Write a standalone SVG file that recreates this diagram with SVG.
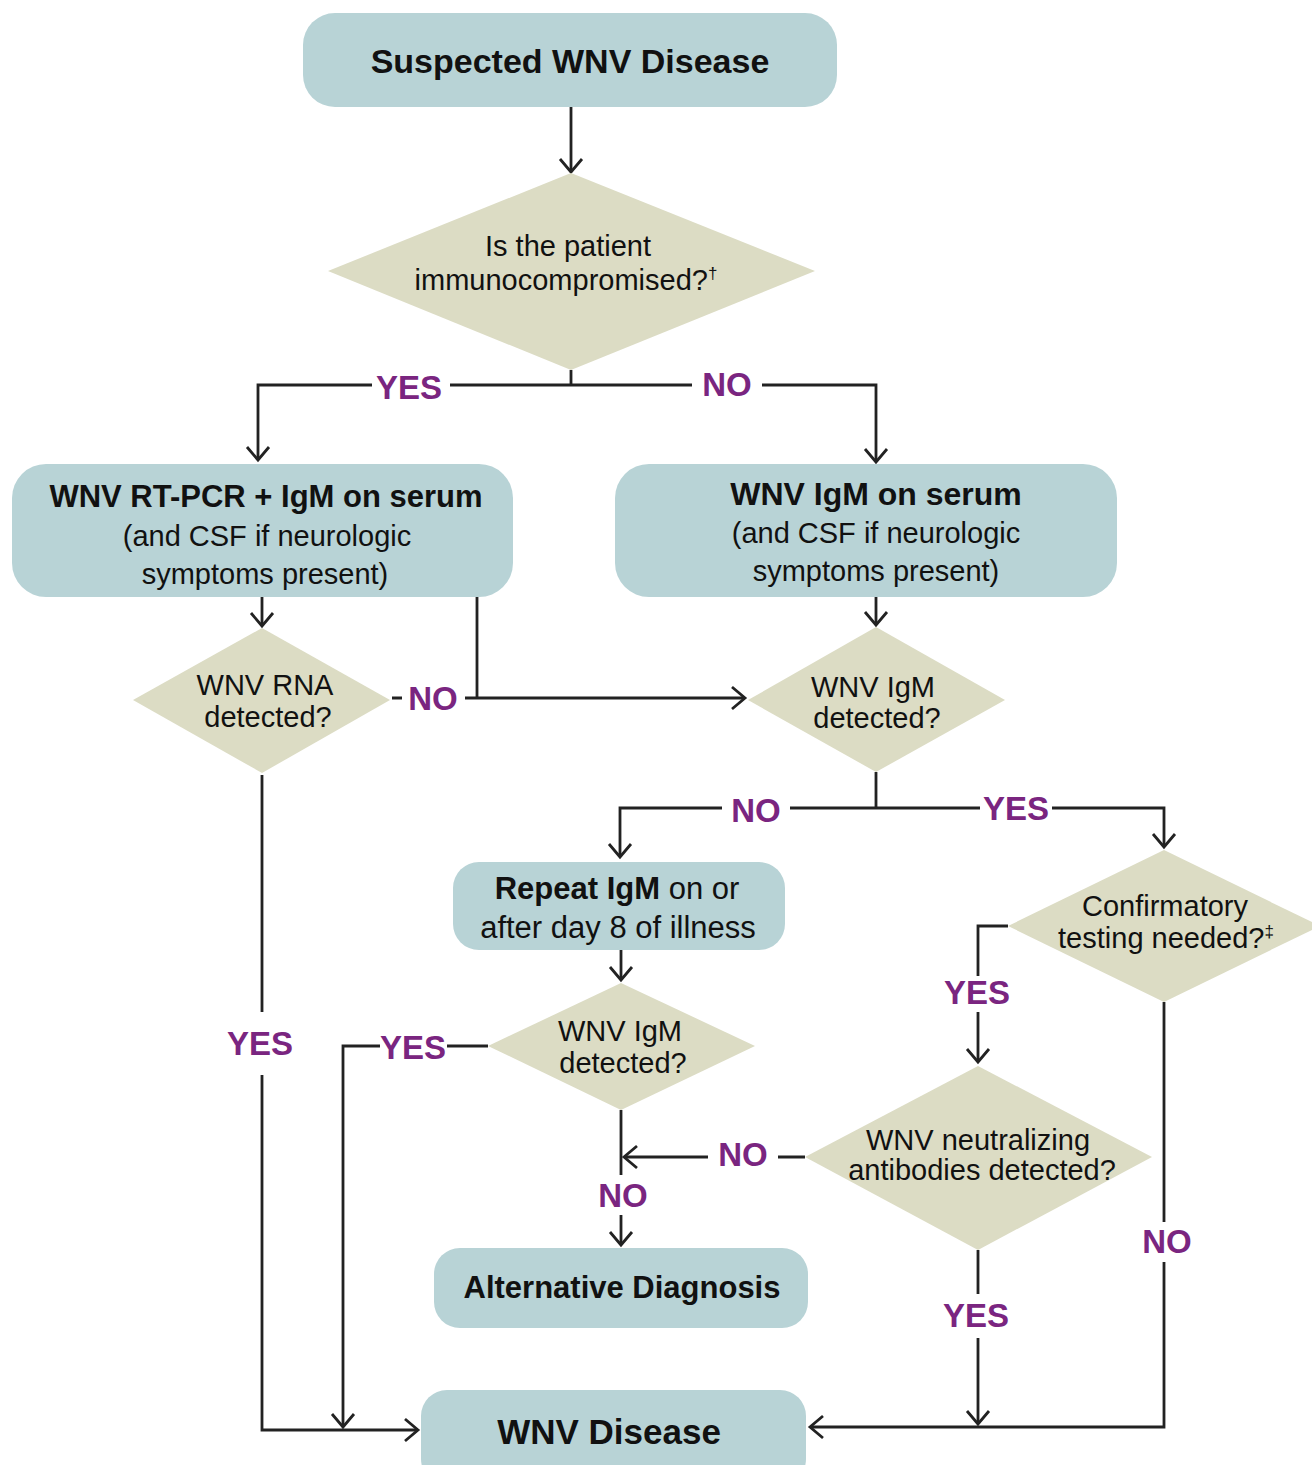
<svg xmlns="http://www.w3.org/2000/svg" width="1312" height="1465" viewBox="0 0 1312 1465">
<style>
.box{fill:#b8d3d6}
.dia{fill:#dcdcc4}
.t{font-family:"Liberation Sans",Arial,sans-serif;font-size:29px;fill:#111;text-anchor:middle}
.b{font-weight:bold}
.sup{font-size:17px}
.hd{font-family:"Liberation Sans",Arial,sans-serif;font-size:31px;font-weight:bold;fill:#111;text-anchor:middle}
.lbl{font-family:"Liberation Sans",Arial,sans-serif;font-size:33px;font-weight:bold;fill:#7a2580;text-anchor:middle}
.c{fill:none;stroke:#222;stroke-width:2.8}
</style>
<defs>
<marker id="arr" markerUnits="userSpaceOnUse" markerWidth="30" markerHeight="30" viewBox="-15 -15 30 30" refX="0" refY="0" orient="auto">
<path d="M-13,-11 L0,0 L-13,11" fill="none" stroke="#222" stroke-width="2.8"/>
</marker>
</defs>
<rect width="1312" height="1465" fill="#fff"/>
<g id="connectors">
<path class="c" d="M571,107 V172" marker-end="url(#arr)"/>
<path class="c" d="M571,370 V385 M571,385 H450 M372,385 H258 V460" marker-end="url(#arr)"/>
<path class="c" d="M571,385 H692 M762,385 H876 V462" marker-end="url(#arr)"/>
<path class="c" d="M262,597 V626" marker-end="url(#arr)"/>
<path class="c" d="M876,597 V625" marker-end="url(#arr)"/>
<path class="c" d="M392,698 H402 M477,597 V698 M465,698 H745" marker-end="url(#arr)"/>
<path class="c" d="M876,772 V808 M876,808 H790 M722,808 H620 V857" marker-end="url(#arr)"/>
<path class="c" d="M876,808 H980 M1052,808 H1164 V847" marker-end="url(#arr)"/>
<path class="c" d="M621,950 V980" marker-end="url(#arr)"/>
<path class="c" d="M488,1046 H447 M380,1046 H343 V1427" marker-end="url(#arr)"/>
<path class="c" d="M621,1110 V1175 M621,1215 V1245" marker-end="url(#arr)"/>
<path class="c" d="M805,1157 H778 M708,1157 H624" marker-end="url(#arr)"/>
<path class="c" d="M1008,926 H978 V976 M978,1012 V1062" marker-end="url(#arr)"/>
<path class="c" d="M1164,1002 V1222 M1164,1262 V1427 H810" marker-end="url(#arr)"/>
<path class="c" d="M978,1250 V1294 M978,1338 V1424" marker-end="url(#arr)"/>
<path class="c" d="M262,775 V1012 M262,1075 V1430 H418" marker-end="url(#arr)"/>
<text class="lbl" x="409" y="399">YES</text>
<text class="lbl" x="727" y="396">NO</text>
<text class="lbl" x="433" y="710">NO</text>
<text class="lbl" x="756" y="822">NO</text>
<text class="lbl" x="1016" y="820">YES</text>
<text class="lbl" x="977" y="1004">YES</text>
<text class="lbl" x="413" y="1059">YES</text>
<text class="lbl" x="260" y="1055">YES</text>
<text class="lbl" x="743" y="1166">NO</text>
<text class="lbl" x="623" y="1207">NO</text>
<text class="lbl" x="1167" y="1253">NO</text>
<text class="lbl" x="976" y="1327">YES</text>
</g>
<g id="n-suspected">
<rect class="box" x="303" y="13" width="534" height="94" rx="32"/>
<text class="hd" x="570" y="73" style="font-size:34px">Suspected WNV Disease</text>
</g>
<g id="d-immuno">
<polygon class="dia" points="571,173 815,271 571,370 328,271"/>
<text class="t" x="568" y="256">Is the patient</text>
<text class="t" x="566" y="290">immunocompromised?<tspan class="sup" dy="-11">†</tspan></text>
</g>
<g id="n-rtpcr">
<rect class="box" x="12" y="464" width="501" height="133" rx="34"/>
<text class="hd" x="266" y="507">WNV RT-PCR + IgM on serum</text>
<text class="t" x="267" y="546">(and CSF if neurologic</text>
<text class="t" x="265" y="584">symptoms present)</text>
</g>
<g id="n-igm">
<rect class="box" x="615" y="464" width="502" height="133" rx="34"/>
<text class="hd" x="876" y="505" style="font-size:32px">WNV IgM on serum</text>
<text class="t" x="876" y="543">(and CSF if neurologic</text>
<text class="t" x="876" y="581">symptoms present)</text>
</g>
<g id="d-rna">
<polygon class="dia" points="262,628 390,700 262,773 133,700"/>
<text class="t" x="265" y="695">WNV RNA</text>
<text class="t" x="268" y="727">detected?</text>
</g>
<g id="d-igm1">
<polygon class="dia" points="876,627 1005,700 876,772 748,700"/>
<text class="t" x="873" y="697">WNV IgM</text>
<text class="t" x="877" y="728">detected?</text>
</g>
<g id="n-repeat">
<rect class="box" x="453" y="862" width="332" height="88" rx="26"/>
<text class="t" x="617" y="899" style="font-size:31px"><tspan class="b">Repeat IgM</tspan> on or</text>
<text class="t" x="618" y="938" style="font-size:31px">after day 8 of illness</text>
</g>
<g id="d-confirm">
<polygon class="dia" points="1164,850 1320,926 1164,1002 1008,926"/>
<text class="t" x="1165" y="916" style="font-size:29px">Confirmatory</text>
<text class="t" x="1166" y="948" style="font-size:29px">testing needed?<tspan class="sup" dy="-11">‡</tspan></text>
</g>
<g id="d-igm2">
<polygon class="dia" points="621,983 755,1046 621,1110 488,1046"/>
<text class="t" x="620" y="1041">WNV IgM</text>
<text class="t" x="623" y="1073">detected?</text>
</g>
<g id="d-neut">
<polygon class="dia" points="978,1066 1152,1157 978,1250 805,1157"/>
<text class="t" x="978" y="1150">WNV neutralizing</text>
<text class="t" x="982" y="1180">antibodies detected?</text>
</g>
<g id="n-alt">
<rect class="box" x="434" y="1248" width="374" height="80" rx="26"/>
<text class="hd" x="622" y="1298">Alternative Diagnosis</text>
</g>
<g id="n-wnv">
<rect class="box" x="421" y="1390" width="385" height="95" rx="26"/>
<text class="hd" x="609" y="1444" style="font-size:35px">WNV Disease</text>
</g>
</svg>
